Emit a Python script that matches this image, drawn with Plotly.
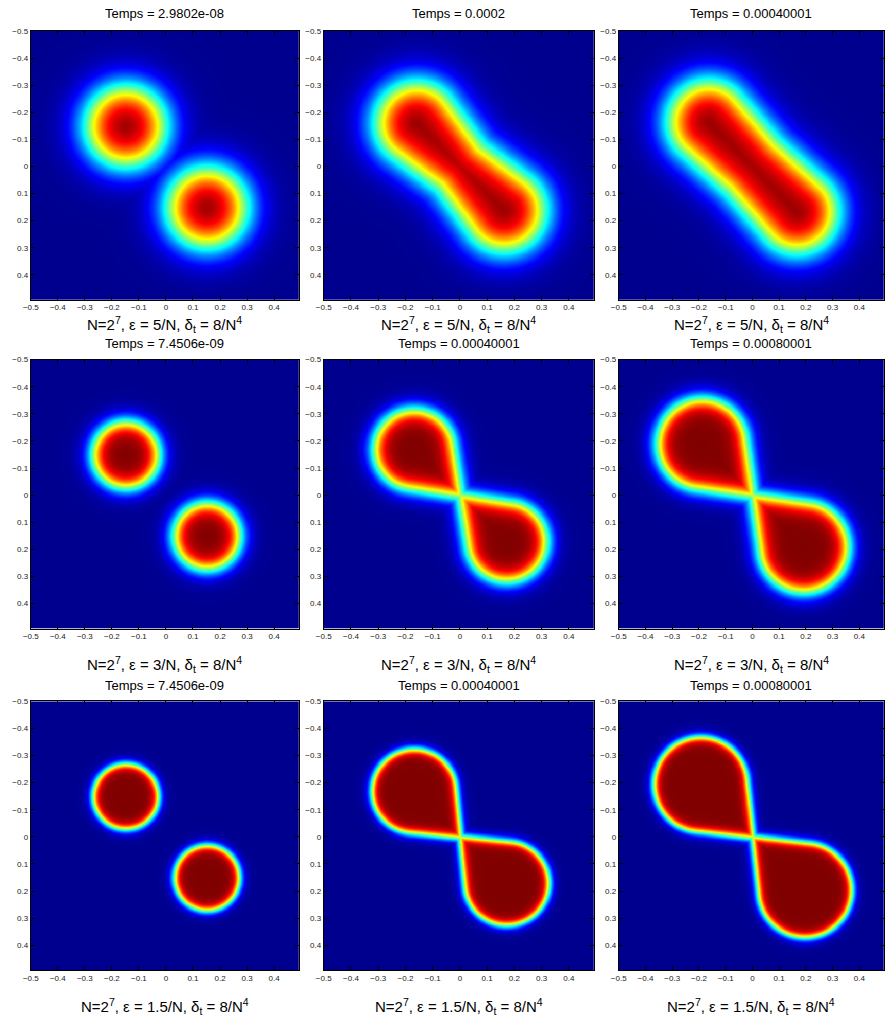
import numpy as np
import plotly.graph_objects as go

# ---------------- data ----------------
N = 128
grid = -0.5 + np.arange(N) / N  # -0.5 ... 0.4921875

titles = [
    ["Temps = 2.9802e-08", "Temps = 0.0002", "Temps = 0.00040001"],
    ["Temps = 7.4506e-09", "Temps = 0.00040001", "Temps = 0.00080001"],
    ["Temps = 7.4506e-09", "Temps = 0.00040001", "Temps = 0.00080001"],
]
eps_num = [5.0, 3.0, 1.5]
eps_labels = ["5/N", "3/N", "1.5/N"]
profile_width = [2.0, 1.7, 1.7]  # interface width in units of eps

# lobe centre coordinate (lobes at (-c,-c) and (c,c)), lobe radius, neck radius
lobe_center = [[0.15, 0.16, 0.165], [0.15, 0.17, 0.19], [0.15, 0.17, 0.195]]
lobe_radius = [[0.135, 0.14, 0.14], [0.12, 0.145, 0.165], [0.12, 0.155, 0.175]]
neck_radius = [[-1, 0.105, 0.125], [-1, 0.004, 0.004], [-1, 0.003, 0.003]]

tick_vals = [-0.5, -0.4, -0.3, -0.2, -0.1, 0, 0.1, 0.2, 0.3, 0.4]
tick_text = ["\u22120.5", "\u22120.4", "\u22120.3", "\u22120.2", "\u22120.1", "0", "0.1", "0.2", "0.3", "0.4"]

# MATLAB-like jet
jet = [
    [0.0, "rgb(0,0,143)"],
    [0.11, "rgb(0,0,255)"],
    [0.36, "rgb(0,255,255)"],
    [0.62, "rgb(255,255,0)"],
    [0.87, "rgb(255,0,0)"],
    [1.0, "rgb(128,0,0)"],
]


def sdf_panel(c, R, r1):
    X, Y = np.meshgrid(grid, grid)
    if r1 < 0:
        d1 = np.hypot(X + c, Y + c) - R
        d2 = np.hypot(X - c, Y - c) - R
        return np.minimum(d1, d2)
    a = np.abs((X + Y) / np.sqrt(2))
    b = np.abs((Y - X) / np.sqrt(2))
    h = c * np.sqrt(2)
    bb = (r1 - R) / h
    aa = np.sqrt(1 - bb * bb)
    k = b * (-bb) + a * aa
    d_origin = np.hypot(b, a) - r1
    d_lobe = np.hypot(b, a - h) - R
    d_side = b * aa + a * bb - r1
    return np.where(k < 0, d_origin, np.where(k > aa * h, d_lobe, d_side))


# ---------------- layout geometry ----------------
W, H = 885, 1028
col_px = [(23, 294), (319, 592), (617, 885)]
row_px = [(27, 297), (357, 627), (700, 970)]
title_y = [10, 341, 684]
label_y = [322, 663, 1006]

fig = go.Figure()
annotations = []
for r in range(3):
    eps = eps_num[r] / N
    for cidx in range(3):
        k = r * 3 + cidx + 1
        d = sdf_panel(lobe_center[r][cidx], lobe_radius[r][cidx], neck_radius[r][cidx])
        u = 0.5 * (1 - np.tanh(d / (profile_width[r] * eps)))
        xa = "x" if k == 1 else f"x{k}"
        ya = "y" if k == 1 else f"y{k}"
        fig.add_trace(go.Heatmap(
            x=grid, y=grid, z=u, zmin=0, zmax=1, colorscale=jet,
            showscale=False, zsmooth="best", xaxis=xa, yaxis=ya,
            hoverinfo="skip"))
        x0, x1 = col_px[cidx]
        y0, y1 = row_px[r]
        common = dict(
            tickvals=tick_vals, ticktext=tick_text, ticks="inside", ticklen=4,
            tickcolor="black", showline=True, linecolor="black", linewidth=1,
            mirror="ticks", showgrid=False, zeroline=False,
            tickfont=dict(family="Liberation Sans", size=8, color="#222"),
        )
        ax = dict(domain=[x0 / W, x1 / W], range=[-0.5, 0.4921875], anchor=ya, **common)
        ay = dict(domain=[1 - y1 / H, 1 - y0 / H], range=[0.4921875, -0.5], anchor=xa, **common)
        fig.layout["xaxis" if k == 1 else f"xaxis{k}"] = ax
        fig.layout["yaxis" if k == 1 else f"yaxis{k}"] = ay
        xc = (x0 + x1) / 2 / W
        annotations.append(dict(
            x=xc, y=1 - title_y[r] / H, xref="paper", yref="paper",
            text=titles[r][cidx], showarrow=False,
            font=dict(family="Liberation Sans", size=13, color="black"),
            xanchor="center", yanchor="middle"))
        annotations.append(dict(
            x=xc, y=1 - label_y[r] / H, xref="paper", yref="paper",
            text=f"N=2<sup>7</sup>, \u03b5 = {eps_labels[r]}, \u03b4<sub>t</sub> = 8/N<sup>4</sup>",
            showarrow=False,
            font=dict(family="Liberation Sans", size=15, color="black"),
            xanchor="center", yanchor="middle"))

fig.update_layout(
    width=W, height=H, margin=dict(l=0, r=0, t=0, b=0),
    paper_bgcolor="white", plot_bgcolor="white",
    annotations=annotations, showlegend=False)

fig.write_html(
    "out.html",
    config={"displayModeBar": False},
    post_script="document.body.style.margin='0';document.body.style.overflow='hidden';",
)
